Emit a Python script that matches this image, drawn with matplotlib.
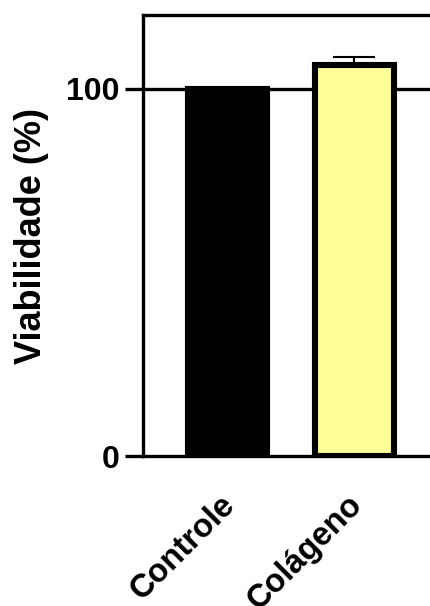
import matplotlib.pyplot as plt
from matplotlib.transforms import ScaledTranslation

plt.rcParams['font.family'] = ['Liberation Sans', 'DejaVu Sans']
plt.rcParams['font.weight'] = 'bold'

groups = ['Controle', 'Colágeno']
viab = [100, 106.3]
err = [0, 2.4]
colors = ['black', '#FFFF99']

fig = plt.figure(figsize=(4.3, 6.06), dpi=100)
ax = fig.add_axes([143 / 430, 150 / 606, 287 / 430, 441 / 606])

x = list(range(len(groups)))
ax.axhline(100, color='black', lw=2.4, zorder=1)
ax.errorbar(x[1], viab[1], yerr=err[1], color='black', lw=1.5,
            capsize=15, capthick=1.5, zorder=2)
ax.bar(x, viab, width=0.617, color=colors, edgecolor='black', lw=4.4, zorder=3)

ax.set_xlim(-0.665, 1.595)
ax.set_ylim(0, 120)
ax.set_yticks([0, 100])
ax.set_xticks(x)
ax.tick_params(axis='y', length=13, width=2.4, labelsize=23, pad=4)
ax.tick_params(axis='x', length=0, pad=22)
ax.set_xticklabels(groups, rotation=45, ha='right', va='top',
                   rotation_mode='anchor', fontsize=23.5, fontweight='bold')
# nudge rotated labels left/down
shift = ScaledTranslation(-8 / 100, -3 / 100, fig.dpi_scale_trans)
for lbl in ax.get_xticklabels():
    lbl.set_transform(lbl.get_transform() + shift)
ax.set_ylabel('Viabilidade (%)', fontsize=26, fontweight='bold', labelpad=12)

for s in ['left', 'bottom', 'top']:
    ax.spines[s].set_linewidth(2.4)
ax.spines['right'].set_visible(False)

fig.savefig('out.png', dpi=100)
